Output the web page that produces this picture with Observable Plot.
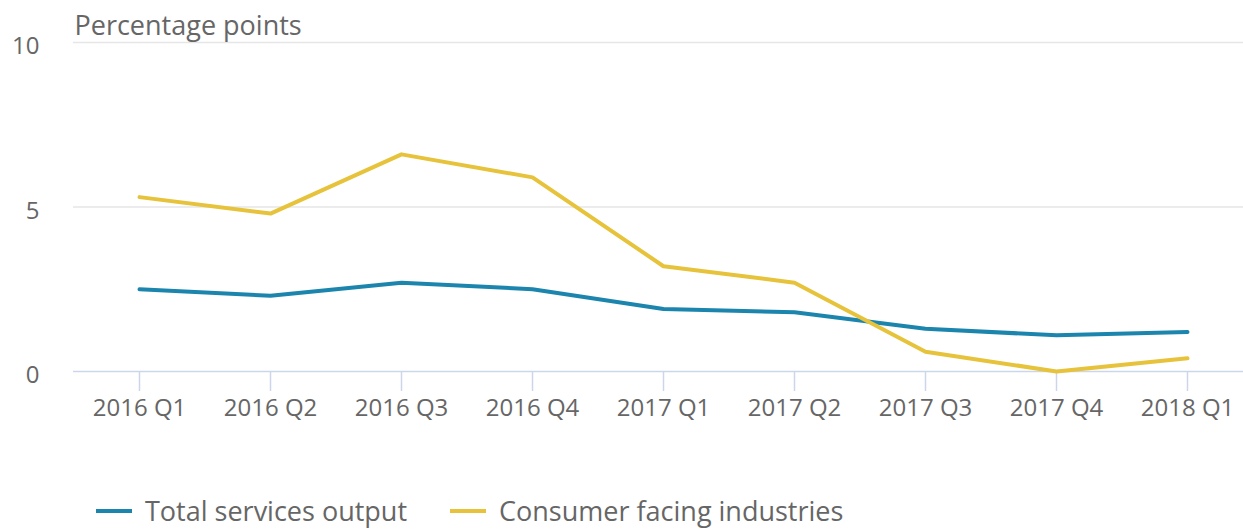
<!DOCTYPE html>
<html><head><meta charset="utf-8">
<script src="https://cdn.jsdelivr.net/npm/d3@7"></script>
<script src="https://cdn.jsdelivr.net/npm/@observablehq/plot@0.6"></script>
<style>
body{margin:0;background:#fff;font-family:"Open Sans",sans-serif;}
#wrap{position:relative;width:1243px;height:530px;overflow:hidden;}
#legend{position:absolute;left:96px;top:496px;display:flex;align-items:center;font-size:27px;line-height:30px;color:#666;white-space:nowrap;}
.item{display:flex;align-items:center;margin-right:43px;}
.sw{width:36px;height:4px;margin-right:13px;}
</style>
</head><body>
<div id="wrap"><div id="chart"></div><div id="legend"></div></div>
<script>
const quarters = ["2016 Q1","2016 Q2","2016 Q3","2016 Q4","2017 Q1","2017 Q2","2017 Q3","2017 Q4","2018 Q1"];
const totalServices = [2.5, 2.3, 2.7, 2.5, 1.9, 1.8, 1.3, 1.1, 1.2];
const consumerFacing = [5.3, 4.8, 6.6, 5.9, 3.2, 2.7, 0.6, 0.0, 0.4];
const seriesNames = ["Total services output", "Consumer facing industries"];
const seriesColors = ["#1b85ad", "#e6c33a"];
const yTicks = [0, 5, 10];
const yTitle = "Percentage points";

const data = quarters.flatMap((q, i) => [
  {q, v: totalServices[i], s: seriesNames[0]},
  {q, v: consumerFacing[i], s: seriesNames[1]}
]);

const chart = Plot.plot({
  width: 1243, height: 460,
  marginLeft: 73, marginRight: 0, marginTop: 42, marginBottom: 89,
  style: {fontFamily: "'Open Sans', sans-serif", color: "#666", background: "#fff"},
  x: {type: "point", domain: quarters, range: [137, 1189], padding: 0},
  y: {domain: [0, 10]},
  color: {domain: seriesNames, range: seriesColors},
  marks: [
    Plot.gridY(yTicks.filter(t => t > 0), {stroke: "#e6e6e6", strokeOpacity: 1, strokeWidth: 1.5}),
    Plot.ruleY([0], {stroke: "#ccd6eb", strokeWidth: 1.5}),
    Plot.axisY(yTicks, {tickSize: 0, tickPadding: 34, fontSize: 24, dy: 4, label: null, fill: "#666"}),
    Plot.axisX({tickSize: 20, tickPadding: 7, stroke: "#ccd6eb", strokeOpacity: 1, strokeWidth: 1.5, fontSize: 24, label: null, fill: "#666"}),
    Plot.lineY(data, {x: "q", y: "v", stroke: "s", strokeWidth: 4}),
    Plot.text([yTitle], {frameAnchor: "top-left", textAnchor: "start", lineAnchor: "middle", dx: 1, dy: -16, fontSize: 27, fill: "#666"})
  ]
});
document.getElementById("chart").appendChild(chart);

const legend = document.getElementById("legend");
seriesNames.forEach((name, i) => {
  const item = document.createElement("div");
  item.className = "item";
  const sw = document.createElement("span");
  sw.className = "sw";
  sw.style.background = seriesColors[i];
  const label = document.createElement("span");
  label.textContent = name;
  item.appendChild(sw);
  item.appendChild(label);
  legend.appendChild(item);
});
</script>
</body></html>
